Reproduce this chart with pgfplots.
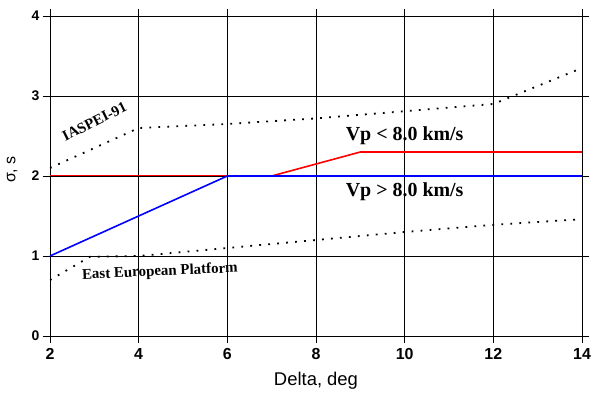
\documentclass[border=0pt]{standalone}
\usepackage{pgfplots}
\pgfplotsset{compat=1.18}
\usepackage{fontspec}
\setmainfont{Liberation Serif}
\newfontfamily\sans{Liberation Sans}
\begin{document}
\begin{tikzpicture}
\begin{axis}[
  scale only axis, width=532bp, height=320bp,
  xmin=2, xmax=14, ymin=0, ymax=4,
  xtick={2,4,6,8,10,12,14}, ytick={0,1,2,3,4},
  grid=major, major grid style={black, line width=0.8bp},
  axis line style={black, line width=0.8bp},
  tick align=outside, tick pos=both, major tick length=7bp,
  xticklabel pos=lower, yticklabel pos=left,
  tick style={black, line width=0.8bp},
  /pgf/number format/assume math mode=true,
  xticklabel style={font=\sans\bfseries\fontsize{16}{18}\selectfont, yshift=-2bp},
  yticklabel style={font=\sans\bfseries\fontsize{14}{16}\selectfont},
  xlabel={Delta, deg}, ylabel={σ, s},
  xlabel style={font=\sans\fontsize{18.5}{20}\selectfont, at={(rel axis cs:0.5,0)}, anchor=center, yshift=-45bp},
  ylabel style={font=\sans\fontsize{16}{18}\selectfont, at={(rel axis cs:0,0.52)}, anchor=center, yshift=38bp},
]
\coordinate (ll) at (rel axis cs:0,0);
\coordinate (ur) at (rel axis cs:1,1);
% red line (thin part lying on the grid line at 2)
\addplot[red, line width=1bp] coordinates {(2,2) (7,2)};
\addplot[red, line width=1.6bp] coordinates {(7,2) (9,2.3) (14,2.3)};
% blue line
\addplot[blue, line width=1.6bp] coordinates {(2,1) (6,2) (14,2)};
% IASPEI-91
\addplot[black, line width=1.8bp, dash pattern=on 1.8bp off 7.2bp] coordinates {(2,2.1) (4,2.6) (6,2.65) (8,2.72) (10,2.81) (12,2.9) (14,3.35)};
% East European Platform
\addplot[black, line width=1.8bp, dash pattern=on 1.8bp off 7.2bp] coordinates {(2,0.7) (2.9,0.99) (4,1.0) (6,1.1) (8,1.2) (10,1.3) (12,1.39) (14,1.46)};
\node[rotate=26.5, font=\bfseries\fontsize{15}{17}\selectfont] at (axis cs:3.0,2.68) {IASPEI-91};
\node[font=\bfseries\fontsize{20}{22}\selectfont] at (axis cs:10.0,2.5) {Vp < 8.0 km/s};
\node[font=\bfseries\fontsize{20}{22}\selectfont] at (axis cs:10.0,1.8) {Vp > 8.0 km/s};
\node[rotate=2.5, font=\bfseries\fontsize{15}{17}\selectfont] at (axis cs:4.48,0.8) {East European Platform};
\end{axis}
\pgfresetboundingbox
\path ([xshift=-50bp,yshift=-57bp]ll) rectangle ([xshift=17bp,yshift=16bp]ur);
\end{tikzpicture}
\end{document}
